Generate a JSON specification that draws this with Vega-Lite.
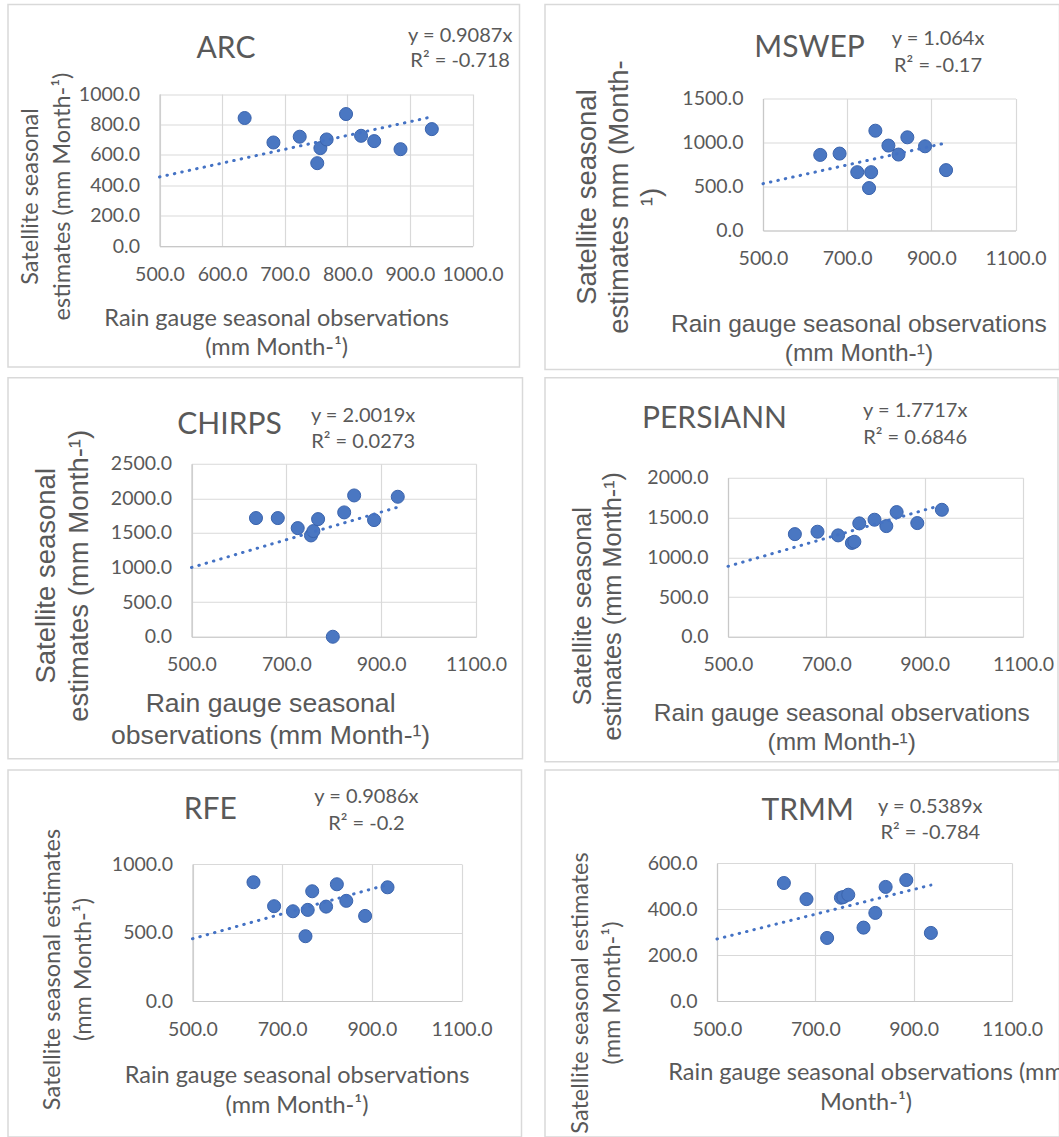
{
  "$schema": "https://vega.github.io/schema/vega-lite/v6.json",
  "background": "white",
  "padding": {"left": 7, "top": 3.5, "right": 0, "bottom": 0},
  "columns": 2,
  "align": "each",
  "spacing": {"row": 6.25, "column": 20},
  "datasets": {
    "points": [
      {"product": "ARC", "obs": 636, "est": 842}, {"product": "ARC", "obs": 682, "est": 681}, {"product": "ARC", "obs": 724, "est": 719}, {"product": "ARC", "obs": 752, "est": 545}, {"product": "ARC", "obs": 757, "est": 644}, {"product": "ARC", "obs": 767, "est": 701}, {"product": "ARC", "obs": 798, "est": 868}, {"product": "ARC", "obs": 822, "est": 725}, {"product": "ARC", "obs": 843, "est": 690}, {"product": "ARC", "obs": 885, "est": 637}, {"product": "ARC", "obs": 935, "est": 769},
      {"product": "MSWEP", "obs": 636, "est": 859}, {"product": "MSWEP", "obs": 682, "est": 874}, {"product": "MSWEP", "obs": 724, "est": 663}, {"product": "MSWEP", "obs": 752, "est": 482}, {"product": "MSWEP", "obs": 757, "est": 663}, {"product": "MSWEP", "obs": 767, "est": 1134}, {"product": "MSWEP", "obs": 798, "est": 965}, {"product": "MSWEP", "obs": 822, "est": 863}, {"product": "MSWEP", "obs": 843, "est": 1059}, {"product": "MSWEP", "obs": 885, "est": 957}, {"product": "MSWEP", "obs": 935, "est": 686},
      {"product": "CHIRPS", "obs": 636, "est": 1715}, {"product": "CHIRPS", "obs": 682, "est": 1715}, {"product": "CHIRPS", "obs": 724, "est": 1570}, {"product": "CHIRPS", "obs": 752, "est": 1464}, {"product": "CHIRPS", "obs": 757, "est": 1527}, {"product": "CHIRPS", "obs": 767, "est": 1700}, {"product": "CHIRPS", "obs": 798, "est": 0}, {"product": "CHIRPS", "obs": 822, "est": 1797}, {"product": "CHIRPS", "obs": 843, "est": 2042}, {"product": "CHIRPS", "obs": 885, "est": 1686}, {"product": "CHIRPS", "obs": 935, "est": 2023},
      {"product": "PERSIANN", "obs": 636, "est": 1291}, {"product": "PERSIANN", "obs": 682, "est": 1321}, {"product": "PERSIANN", "obs": 724, "est": 1275}, {"product": "PERSIANN", "obs": 752, "est": 1180}, {"product": "PERSIANN", "obs": 757, "est": 1195}, {"product": "PERSIANN", "obs": 767, "est": 1426}, {"product": "PERSIANN", "obs": 798, "est": 1472}, {"product": "PERSIANN", "obs": 822, "est": 1392}, {"product": "PERSIANN", "obs": 843, "est": 1568}, {"product": "PERSIANN", "obs": 885, "est": 1430}, {"product": "PERSIANN", "obs": 935, "est": 1597},
      {"product": "RFE", "obs": 636, "est": 867}, {"product": "RFE", "obs": 682, "est": 692}, {"product": "RFE", "obs": 724, "est": 655}, {"product": "RFE", "obs": 752, "est": 473}, {"product": "RFE", "obs": 757, "est": 665}, {"product": "RFE", "obs": 767, "est": 801}, {"product": "RFE", "obs": 798, "est": 689}, {"product": "RFE", "obs": 822, "est": 852}, {"product": "RFE", "obs": 843, "est": 731}, {"product": "RFE", "obs": 885, "est": 621}, {"product": "RFE", "obs": 935, "est": 830},
      {"product": "TRMM", "obs": 636, "est": 513}, {"product": "TRMM", "obs": 682, "est": 443}, {"product": "TRMM", "obs": 724, "est": 274}, {"product": "TRMM", "obs": 752, "est": 449}, {"product": "TRMM", "obs": 757, "est": 452}, {"product": "TRMM", "obs": 767, "est": 462}, {"product": "TRMM", "obs": 798, "est": 319}, {"product": "TRMM", "obs": 822, "est": 383}, {"product": "TRMM", "obs": 843, "est": 496}, {"product": "TRMM", "obs": 885, "est": 526}, {"product": "TRMM", "obs": 935, "est": 296}
    ],
    "trend": [
      {"product": "ARC", "obs": 500, "est": 454.35}, {"product": "ARC", "obs": 935, "est": 849.6},
      {"product": "MSWEP", "obs": 500, "est": 532}, {"product": "MSWEP", "obs": 928, "est": 987.4},
      {"product": "CHIRPS", "obs": 500, "est": 1000.95}, {"product": "CHIRPS", "obs": 935, "est": 1871.8},
      {"product": "PERSIANN", "obs": 500, "est": 885.85}, {"product": "PERSIANN", "obs": 928, "est": 1644.1},
      {"product": "RFE", "obs": 500, "est": 454.3}, {"product": "RFE", "obs": 935, "est": 849.5},
      {"product": "TRMM", "obs": 500, "est": 269.45}, {"product": "TRMM", "obs": 935, "est": 503.9}
    ]
  },
  "concat": [
    {
      "width": 511.5, "height": 362.5,
      "layer": [
        {"data": {"name": "points"}, "transform": [{"filter": "datum.product === 'ARC'"}],
         "mark": {"type": "circle", "size": 170, "fill": "#4a77c2", "stroke": "#3b64ad", "strokeWidth": 1, "opacity": 1},
         "encoding": {
           "x": {"field": "obs", "type": "quantitative", "scale": {"domain": [500, 1000], "range": [151.5, 464.5], "nice": false, "zero": false},
                 "axis": {"orient": "top", "offset": -241.5, "values": [500, 600, 700, 800, 900, 1000], "format": ".1f", "labelOverlap": false, "title": ["Rain gauge seasonal observations", "(mm Month-¹)"], "titleX": 268.2, "titleY": 72, "titleAngle": 0, "titleAlign": "center", "titleBaseline": "middle", "titleLineHeight": 29, "titleFont": "Lato", "titleFontSize": 23.5}},
           "y": {"field": "est", "type": "quantitative", "scale": {"domain": [0, 1000], "range": [241.5, 89.5], "nice": false, "zero": false},
                 "axis": {"orient": "left", "offset": -151.5, "values": [0, 200, 400, 600, 800, 1000], "format": ".1f", "labelOverlap": false, "title": ["Satellite seasonal", "estimates (mm Month-¹)"], "titleX": -128.6, "titleY": 191.5, "titleAngle": -90, "titleAlign": "center", "titleBaseline": "middle", "titleLineHeight": 32, "titleFont": "Lato", "titleFontSize": 23.5}}}},
        {"data": {"name": "trend"}, "transform": [{"filter": "datum.product === 'ARC'"}],
         "mark": {"type": "line", "stroke": "#4472c4", "strokeWidth": 3, "strokeCap": "round", "strokeDash": [0.5, 7.1]},
         "encoding": {"x": {"field": "obs", "type": "quantitative", "scale": {"domain": [500, 1000], "range": [151.5, 464.5], "nice": false, "zero": false}},
                      "y": {"field": "est", "type": "quantitative", "scale": {"domain": [0, 1000], "range": [241.5, 89.5], "nice": false, "zero": false}}}},
        {"data": {"values": [{"product": "ARC"}]}, "mark": {"type": "text", "fontSize": 30, "align": "center", "baseline": "middle"},
         "encoding": {"text": {"field": "product"}, "x": {"datum": 606.2, "type": "quantitative", "scale": {"domain": [500, 1000], "range": [151.5, 464.5], "nice": false, "zero": false}}, "y": {"datum": 1292.8, "type": "quantitative", "scale": {"domain": [0, 1000], "range": [241.5, 89.5], "nice": false, "zero": false}}}},
        {"data": {"values": [{}]}, "mark": {"type": "text", "text": ["y = 0.9087x", "R² = -0.718"], "fontSize": 20, "lineHeight": 25, "align": "center", "baseline": "middle"},
         "encoding": {"x": {"datum": 980.3, "type": "quantitative", "scale": {"domain": [500, 1000], "range": [151.5, 464.5], "nice": false, "zero": false}}, "y": {"datum": 1381.6, "type": "quantitative", "scale": {"domain": [0, 1000], "range": [241.5, 89.5], "nice": false, "zero": false}}}}
      ]
    },
    {
      "width": 514.5, "height": 365,
      "layer": [
        {"data": {"name": "points"}, "transform": [{"filter": "datum.product === 'MSWEP'"}],
         "mark": {"type": "circle", "size": 170, "fill": "#4a77c2", "stroke": "#3b64ad", "strokeWidth": 1, "opacity": 1},
         "encoding": {
           "x": {"field": "obs", "type": "quantitative", "scale": {"domain": [500, 1100], "range": [218, 470.5], "nice": false, "zero": false},
                 "axis": {"orient": "top", "offset": -226, "values": [500, 700, 900, 1100], "format": ".1f", "labelOverlap": false, "title": ["Rain gauge seasonal observations", "(mm Month-¹)"], "titleX": 313.4, "titleY": 94, "titleAngle": 0, "titleAlign": "center", "titleBaseline": "middle", "titleLineHeight": 29, "titleFont": "Liberation Sans", "titleFontSize": 24.5}},
           "y": {"field": "est", "type": "quantitative", "scale": {"domain": [0, 1500], "range": [226, 94], "nice": false, "zero": false},
                 "axis": {"orient": "left", "offset": -218, "values": [0, 500, 1000, 1500], "format": ".1f", "labelOverlap": false, "title": ["Satellite seasonal", "estimates mm (Month-", "¹)"], "titleX": -175.9, "titleY": 192, "titleAngle": -90, "titleAlign": "center", "titleBaseline": "middle", "titleLineHeight": 32, "titleFont": "Liberation Sans", "titleFontSize": 27.5}}}},
        {"data": {"name": "trend"}, "transform": [{"filter": "datum.product === 'MSWEP'"}],
         "mark": {"type": "line", "stroke": "#4472c4", "strokeWidth": 3, "strokeCap": "round", "strokeDash": [0.5, 7.1]},
         "encoding": {"x": {"field": "obs", "type": "quantitative", "scale": {"domain": [500, 1100], "range": [218, 470.5], "nice": false, "zero": false}},
                      "y": {"field": "est", "type": "quantitative", "scale": {"domain": [0, 1500], "range": [226, 94], "nice": false, "zero": false}}}},
        {"data": {"values": [{"product": "MSWEP"}]}, "mark": {"type": "text", "fontSize": 30, "align": "center", "baseline": "middle"},
         "encoding": {"text": {"field": "product"}, "x": {"datum": 610.7, "type": "quantitative", "scale": {"domain": [500, 1100], "range": [218, 470.5], "nice": false, "zero": false}}, "y": {"datum": 2079.5, "type": "quantitative", "scale": {"domain": [0, 1500], "range": [226, 94], "nice": false, "zero": false}}}},
        {"data": {"values": [{}]}, "mark": {"type": "text", "text": ["y = 1.064x", "R² = -0.17"], "fontSize": 20, "lineHeight": 27, "align": "center", "baseline": "middle"},
         "encoding": {"x": {"datum": 916.0, "type": "quantitative", "scale": {"domain": [500, 1100], "range": [218, 470.5], "nice": false, "zero": false}}, "y": {"datum": 2170.5, "type": "quantitative", "scale": {"domain": [0, 1500], "range": [226, 94], "nice": false, "zero": false}}}}
      ]
    },
    {
      "width": 514.5, "height": 381,
      "layer": [
        {"data": {"name": "points"}, "transform": [{"filter": "datum.product === 'CHIRPS'"}],
         "mark": {"type": "circle", "size": 170, "fill": "#4a77c2", "stroke": "#3b64ad", "strokeWidth": 1, "opacity": 1},
         "encoding": {
           "x": {"field": "obs", "type": "quantitative", "scale": {"domain": [500, 1100], "range": [183.5, 468], "nice": false, "zero": false},
                 "axis": {"orient": "top", "offset": -259, "values": [500, 700, 900, 1100], "format": ".1f", "labelOverlap": false, "title": ["Rain gauge seasonal", "observations (mm Month-¹)"], "titleX": 262.1, "titleY": 67, "titleAngle": 0, "titleAlign": "center", "titleBaseline": "middle", "titleLineHeight": 32, "titleFont": "Liberation Sans", "titleFontSize": 26.6}},
           "y": {"field": "est", "type": "quantitative", "scale": {"domain": [0, 2500], "range": [259, 86], "nice": false, "zero": false},
                 "axis": {"orient": "left", "offset": -183.5, "values": [0, 500, 1000, 1500, 2000, 2500], "format": ".1f", "labelOverlap": false, "title": ["Satellite seasonal", "estimates (mm Month-¹)"], "titleX": -145.4, "titleY": 197.5, "titleAngle": -90, "titleAlign": "center", "titleBaseline": "middle", "titleLineHeight": 33.5, "titleFont": "Liberation Sans", "titleFontSize": 27.5}}}},
        {"data": {"name": "trend"}, "transform": [{"filter": "datum.product === 'CHIRPS'"}],
         "mark": {"type": "line", "stroke": "#4472c4", "strokeWidth": 3, "strokeCap": "round", "strokeDash": [0.5, 7.1]},
         "encoding": {"x": {"field": "obs", "type": "quantitative", "scale": {"domain": [500, 1100], "range": [183.5, 468], "nice": false, "zero": false}},
                      "y": {"field": "est", "type": "quantitative", "scale": {"domain": [0, 2500], "range": [259, 86], "nice": false, "zero": false}}}},
        {"data": {"values": [{"product": "CHIRPS"}]}, "mark": {"type": "text", "fontSize": 30, "align": "center", "baseline": "middle"},
         "encoding": {"text": {"field": "product"}, "x": {"datum": 580.2, "type": "quantitative", "scale": {"domain": [500, 1100], "range": [183.5, 468], "nice": false, "zero": false}}, "y": {"datum": 3063.6, "type": "quantitative", "scale": {"domain": [0, 2500], "range": [259, 86], "nice": false, "zero": false}}}},
        {"data": {"values": [{}]}, "mark": {"type": "text", "text": ["y = 2.0019x", "R² = 0.0273"], "fontSize": 20, "lineHeight": 26, "align": "center", "baseline": "middle"},
         "encoding": {"x": {"datum": 861.9, "type": "quantitative", "scale": {"domain": [500, 1100], "range": [183.5, 468], "nice": false, "zero": false}}, "y": {"datum": 3193.6, "type": "quantitative", "scale": {"domain": [0, 2500], "range": [259, 86], "nice": false, "zero": false}}}}
      ]
    },
    {
      "width": 513, "height": 384,
      "layer": [
        {"data": {"name": "points"}, "transform": [{"filter": "datum.product === 'PERSIANN'"}],
         "mark": {"type": "circle", "size": 170, "fill": "#4a77c2", "stroke": "#3b64ad", "strokeWidth": 1, "opacity": 1},
         "encoding": {
           "x": {"field": "obs", "type": "quantitative", "scale": {"domain": [500, 1100], "range": [183, 478], "nice": false, "zero": false},
                 "axis": {"orient": "top", "offset": -259, "values": [500, 700, 900, 1100], "format": ".1f", "labelOverlap": false, "title": ["Rain gauge seasonal observations", "(mm Month-¹)"], "titleX": 296.2, "titleY": 77, "titleAngle": 0, "titleAlign": "center", "titleBaseline": "middle", "titleLineHeight": 29, "titleFont": "Liberation Sans", "titleFontSize": 24.5}},
           "y": {"field": "est", "type": "quantitative", "scale": {"domain": [0, 2000], "range": [259, 100], "nice": false, "zero": false},
                 "axis": {"orient": "left", "offset": -183, "values": [0, 500, 1000, 1500, 2000], "format": ".1f", "labelOverlap": false, "title": ["Satellite seasonal", "estimates (mm Month-¹)"], "titleX": -145.6, "titleY": 228, "titleAngle": -90, "titleAlign": "center", "titleBaseline": "middle", "titleLineHeight": 30.4, "titleFont": "Liberation Sans", "titleFontSize": 25.3}}}},
        {"data": {"name": "trend"}, "transform": [{"filter": "datum.product === 'PERSIANN'"}],
         "mark": {"type": "line", "stroke": "#4472c4", "strokeWidth": 3, "strokeCap": "round", "strokeDash": [0.5, 7.1]},
         "encoding": {"x": {"field": "obs", "type": "quantitative", "scale": {"domain": [500, 1100], "range": [183, 478], "nice": false, "zero": false}},
                      "y": {"field": "est", "type": "quantitative", "scale": {"domain": [0, 2000], "range": [259, 100], "nice": false, "zero": false}}}},
        {"data": {"values": [{"product": "PERSIANN"}]}, "mark": {"type": "text", "fontSize": 30, "align": "center", "baseline": "middle"},
         "encoding": {"text": {"field": "product"}, "x": {"datum": 472.5, "type": "quantitative", "scale": {"domain": [500, 1100], "range": [183, 478], "nice": false, "zero": false}}, "y": {"datum": 2735.8, "type": "quantitative", "scale": {"domain": [0, 2000], "range": [259, 100], "nice": false, "zero": false}}}},
        {"data": {"values": [{}]}, "mark": {"type": "text", "text": ["y = 1.7717x", "R² = 0.6846"], "fontSize": 20, "lineHeight": 27, "align": "center", "baseline": "middle"},
         "encoding": {"x": {"datum": 880.7, "type": "quantitative", "scale": {"domain": [500, 1100], "range": [183, 478], "nice": false, "zero": false}}, "y": {"datum": 2842.8, "type": "quantitative", "scale": {"domain": [0, 2000], "range": [259, 100], "nice": false, "zero": false}}}}
      ]
    },
    {
      "width": 513.5, "height": 367,
      "layer": [
        {"data": {"name": "points"}, "transform": [{"filter": "datum.product === 'RFE'"}],
         "mark": {"type": "circle", "size": 170, "fill": "#4a77c2", "stroke": "#3b64ad", "strokeWidth": 1, "opacity": 1},
         "encoding": {
           "x": {"field": "obs", "type": "quantitative", "scale": {"domain": [500, 1100], "range": [184.5, 453.5], "nice": false, "zero": false},
                 "axis": {"orient": "top", "offset": -231, "values": [500, 700, 900, 1100], "format": ".1f", "labelOverlap": false, "title": ["Rain gauge seasonal observations", "(mm Month-¹)"], "titleX": 288.5, "titleY": 74, "titleAngle": 0, "titleAlign": "center", "titleBaseline": "middle", "titleLineHeight": 30, "titleFont": "Lato", "titleFontSize": 23.5}},
           "y": {"field": "est", "type": "quantitative", "scale": {"domain": [0, 1000], "range": [231, 94], "nice": false, "zero": false},
                 "axis": {"orient": "left", "offset": -184.5, "values": [0, 500, 1000], "format": ".1f", "labelOverlap": false, "title": ["Satellite seasonal estimates", "(mm Month-¹)"], "titleX": -139.6, "titleY": 199, "titleAngle": -90, "titleAlign": "center", "titleBaseline": "middle", "titleLineHeight": 30.4, "titleFont": "Lato", "titleFontSize": 23.5}}}},
        {"data": {"name": "trend"}, "transform": [{"filter": "datum.product === 'RFE'"}],
         "mark": {"type": "line", "stroke": "#4472c4", "strokeWidth": 3, "strokeCap": "round", "strokeDash": [0.5, 7.1]},
         "encoding": {"x": {"field": "obs", "type": "quantitative", "scale": {"domain": [500, 1100], "range": [184.5, 453.5], "nice": false, "zero": false}},
                      "y": {"field": "est", "type": "quantitative", "scale": {"domain": [0, 1000], "range": [231, 94], "nice": false, "zero": false}}}},
        {"data": {"values": [{"product": "RFE"}]}, "mark": {"type": "text", "fontSize": 30, "align": "center", "baseline": "middle"},
         "encoding": {"text": {"field": "product"}, "x": {"datum": 539.7, "type": "quantitative", "scale": {"domain": [500, 1100], "range": [184.5, 453.5], "nice": false, "zero": false}}, "y": {"datum": 1394.2, "type": "quantitative", "scale": {"domain": [0, 1000], "range": [231, 94], "nice": false, "zero": false}}}},
        {"data": {"values": [{}]}, "mark": {"type": "text", "text": ["y = 0.9086x", "R² = -0.2"], "fontSize": 20, "lineHeight": 27, "align": "center", "baseline": "middle"},
         "encoding": {"x": {"datum": 887.9, "type": "quantitative", "scale": {"domain": [500, 1100], "range": [184.5, 453.5], "nice": false, "zero": false}}, "y": {"datum": 1489.1, "type": "quantitative", "scale": {"domain": [0, 1000], "range": [231, 94], "nice": false, "zero": false}}}}
      ]
    },
    {
      "width": 514.5, "height": 367,
      "layer": [
        {"data": {"name": "points"}, "transform": [{"filter": "datum.product === 'TRMM'"}],
         "mark": {"type": "circle", "size": 170, "fill": "#4a77c2", "stroke": "#3b64ad", "strokeWidth": 1, "opacity": 1},
         "encoding": {
           "x": {"field": "obs", "type": "quantitative", "scale": {"domain": [500, 1100], "range": [172, 467], "nice": false, "zero": false},
                 "axis": {"orient": "top", "offset": -231, "values": [500, 700, 900, 1100], "format": ".1f", "labelOverlap": false, "title": ["Rain gauge seasonal observations (mm", "Month-¹)"], "titleX": 320.5, "titleY": 71, "titleAngle": 0, "titleAlign": "center", "titleBaseline": "middle", "titleLineHeight": 30, "titleFont": "Lato", "titleFontSize": 23.5}},
           "y": {"field": "est", "type": "quantitative", "scale": {"domain": [0, 600], "range": [231, 93], "nice": false, "zero": false},
                 "axis": {"orient": "left", "offset": -172, "values": [0, 200, 400, 600], "format": ".1f", "labelOverlap": false, "title": ["Satellite seasonal estimates", "(mm Month-¹)"], "titleX": -136.7, "titleY": 222.5, "titleAngle": -90, "titleAlign": "center", "titleBaseline": "middle", "titleLineHeight": 32, "titleFont": "Lato", "titleFontSize": 23.5}}}},
        {"data": {"name": "trend"}, "transform": [{"filter": "datum.product === 'TRMM'"}],
         "mark": {"type": "line", "stroke": "#4472c4", "strokeWidth": 3, "strokeCap": "round", "strokeDash": [0.5, 7.1]},
         "encoding": {"x": {"field": "obs", "type": "quantitative", "scale": {"domain": [500, 1100], "range": [172, 467], "nice": false, "zero": false}},
                      "y": {"field": "est", "type": "quantitative", "scale": {"domain": [0, 600], "range": [231, 93], "nice": false, "zero": false}}}},
        {"data": {"values": [{"product": "TRMM"}]}, "mark": {"type": "text", "fontSize": 30, "align": "center", "baseline": "middle"},
         "encoding": {"text": {"field": "product"}, "x": {"datum": 684.5, "type": "quantitative", "scale": {"domain": [500, 1100], "range": [172, 467], "nice": false, "zero": false}}, "y": {"datum": 826.1, "type": "quantitative", "scale": {"domain": [0, 600], "range": [231, 93], "nice": false, "zero": false}}}},
        {"data": {"values": [{}]}, "mark": {"type": "text", "text": ["y = 0.5389x", "R² = -0.784"], "fontSize": 20, "lineHeight": 26, "align": "center", "baseline": "middle"},
         "encoding": {"x": {"datum": 933.8, "type": "quantitative", "scale": {"domain": [500, 1100], "range": [172, 467], "nice": false, "zero": false}}, "y": {"datum": 843.5, "type": "quantitative", "scale": {"domain": [0, 600], "range": [231, 93], "nice": false, "zero": false}}}}
      ]
    }
  ],
  "config": {
    "view": {"stroke": "#d9d9d9", "strokeWidth": 1.5},
    "axis": {"labelFont": "Lato", "labelFontSize": 19.5, "labelColor": "#595959", "labelOverlap": false, "labelFlush": false, "titleColor": "#595959", "titleFont": "Lato", "titleFontWeight": "normal", "ticks": false, "domainColor": "#c8c8c8", "domainWidth": 1.2, "gridColor": "#d9d9d9", "gridWidth": 1.2, "grid": true},
    "axisX": {"labelPadding": -19, "labelBaseline": "top"},
    "axisY": {"labelPadding": 20},
    "text": {"font": "Lato", "fill": "#595959"}
  }
}
